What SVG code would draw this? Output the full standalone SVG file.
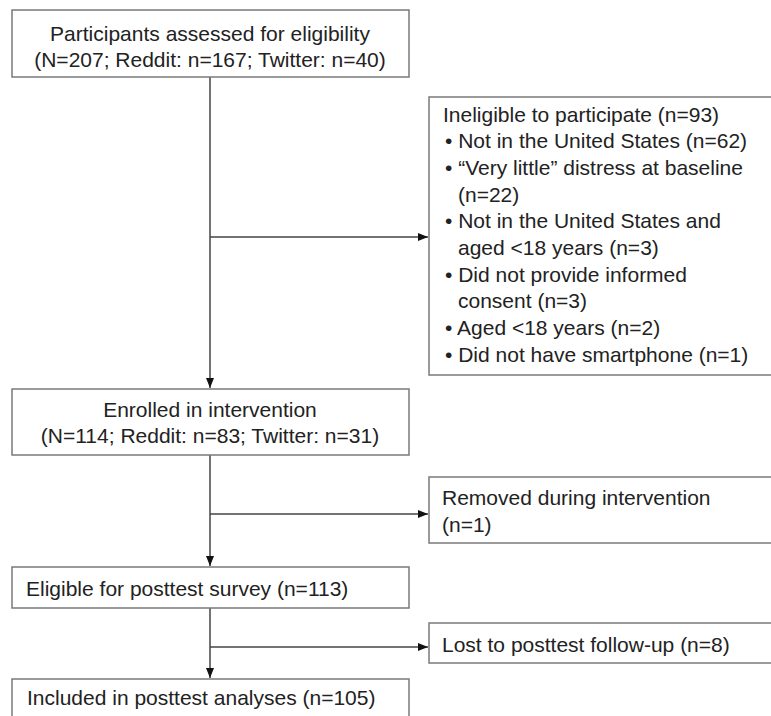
<svg xmlns="http://www.w3.org/2000/svg" width="771" height="716" viewBox="0 0 771 716">
<style>
.box{fill:#fff;stroke:#7a7a7a;stroke-width:1.5}
.t{font-family:"Liberation Sans",Arial,sans-serif;font-size:21px;fill:#222}
.c{text-anchor:middle}
.ln{fill:none;stroke:#444;stroke-width:1.5}
</style>
<defs>
<marker id="ah" viewBox="0 0 10 8" refX="10" refY="4" markerWidth="10" markerHeight="8" markerUnits="userSpaceOnUse" orient="auto">
<path d="M0,0 L10,4 L0,8 z" fill="#111"/>
</marker>
</defs>
<rect width="771" height="716" fill="#fff"/>
<g id="connectors">
<line class="ln" x1="210" y1="77" x2="210" y2="388" marker-end="url(#ah)"/>
<line class="ln" x1="210" y1="237" x2="428" y2="237" marker-end="url(#ah)"/>
<line class="ln" x1="210" y1="455" x2="210" y2="566" marker-end="url(#ah)"/>
<line class="ln" x1="210" y1="514" x2="428" y2="514" marker-end="url(#ah)"/>
<line class="ln" x1="210" y1="608" x2="210" y2="678" marker-end="url(#ah)"/>
<line class="ln" x1="210" y1="647" x2="428" y2="647" marker-end="url(#ah)"/>
</g>
<g id="assessed">
<rect class="box" x="12" y="10" width="397" height="67"/>
<text class="t c" x="210" y="41">Participants assessed for eligibility</text>
<text class="t c" x="210" y="67">(N=207; Reddit: n=167; Twitter: n=40)</text>
</g>
<g id="ineligible">
<rect class="box" x="429" y="97" width="360" height="278"/>
<text class="t" x="443" y="121.5">Ineligible to participate (n=93)</text>
<text class="t" x="445" y="148.2">• Not in the United States (n=62)</text>
<text class="t" x="445" y="174.9">• “Very little” distress at baseline</text>
<text class="t" x="458" y="201.6">(n=22)</text>
<text class="t" x="445" y="228.3">• Not in the United States and</text>
<text class="t" x="458" y="255">aged &lt;18 years (n=3)</text>
<text class="t" x="445" y="281.7">• Did not provide informed</text>
<text class="t" x="458" y="308.4">consent (n=3)</text>
<text class="t" x="445" y="335.1">• Aged &lt;18 years (n=2)</text>
<text class="t" x="445" y="361.8">• Did not have smartphone (n=1)</text>
</g>
<g id="enrolled">
<rect class="box" x="12" y="389" width="397" height="66"/>
<text class="t c" x="210" y="417">Enrolled in intervention</text>
<text class="t c" x="210" y="443">(N=114; Reddit: n=83; Twitter: n=31)</text>
</g>
<g id="removed">
<rect class="box" x="429" y="477" width="360" height="66"/>
<text class="t" x="442" y="505">Removed during intervention</text>
<text class="t" x="442" y="532">(n=1)</text>
</g>
<g id="eligible">
<rect class="box" x="12" y="567" width="397" height="41"/>
<text class="t" x="26" y="596">Eligible for posttest survey (n=113)</text>
</g>
<g id="lost">
<rect class="box" x="429" y="623" width="360" height="40"/>
<text class="t" x="442" y="652">Lost to posttest follow-up (n=8)</text>
</g>
<g id="included">
<rect class="box" x="12" y="679" width="397" height="60"/>
<text class="t" x="27" y="705">Included in posttest analyses (n=105)</text>
</g>
</svg>
